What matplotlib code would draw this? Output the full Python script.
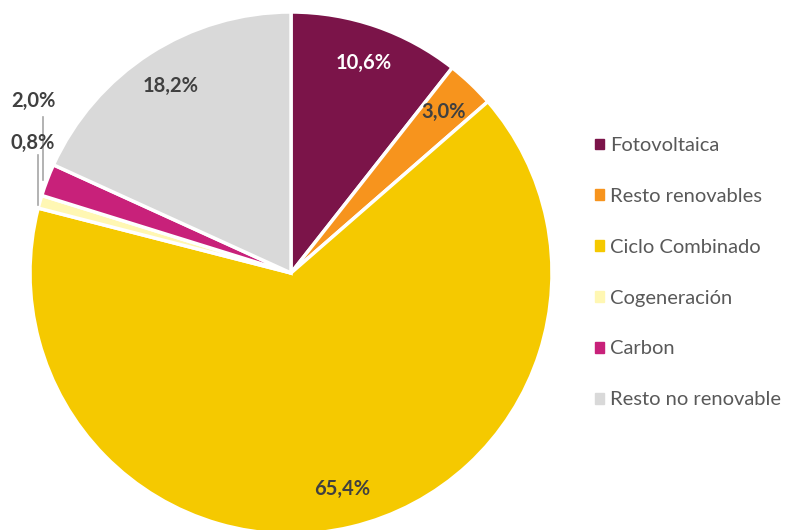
import matplotlib.pyplot as plt
import numpy as np

labels = ['Fotovoltaica', 'Resto renovables', 'Ciclo Combinado',
          'Cogeneración', 'Carbon', 'Resto no renovable']
values = [10.6, 3.0, 65.4, 0.8, 2.0, 18.2]
colors = ['#7B1449', '#F7941D', '#F5C900', '#FFF7B3', '#C8217A', '#D9D9D9']
label_colors = ['white', '#404040', '#404040', '#404040', '#404040', '#404040']

plt.rcParams['font.family'] = ['Lato', 'DejaVu Sans']

W, H = 794, 530
fig = plt.figure(figsize=(W / 100, H / 100), dpi=100)
ax = fig.add_axes([0, 0, 1, 1])

cx, cy, r = 291, H - 273, 261
wedges, _ = ax.pie(values, colors=colors, startangle=90, counterclock=False,
                   center=(cx, cy), radius=r, frame=True,
                   wedgeprops=dict(edgecolor='white', linewidth=2.5))
ax.set_xlim(0, W)
ax.set_ylim(0, H)
ax.set_aspect('equal')
ax.axis('off')

# percentage labels inside the bigger slices
for w, v, c in zip(wedges, values, label_colors):
    if v < 2.5:
        continue
    txt = f'{v:.1f}%'.replace('.', ',')
    ang = np.deg2rad((w.theta1 + w.theta2) / 2)
    ax.text(cx + 0.85 * r * np.cos(ang), cy + 0.85 * r * np.sin(ang), txt,
            ha='center', va='center', fontsize=14.5, fontweight='bold', color=c)

# small slices with leader lines
ax.text(33, H - 101, '2,0%', ha='center', va='center', fontsize=14.5,
        fontweight='bold', color='#404040')
ax.text(33, H - 143, '0,8%', ha='center', va='center', fontsize=14.5,
        fontweight='bold', color='#404040')
ax.plot([43, 43], [H - 117, H - 180], color='#A6A6A6', lw=1.2)
ax.plot([38, 38], [H - 155, H - 205], color='#A6A6A6', lw=1.2)

handles = [plt.Rectangle((0, 0), 1, 1, color=c) for c in colors]
fig.legend(handles, labels, loc='upper left', bbox_to_anchor=(577 / W, 1 - 119 / H),
           frameon=False, fontsize=14.5, labelcolor='#595959',
           handlelength=0.45, handleheight=0.45, handletextpad=0.3,
           labelspacing=1.68)

fig.savefig('out.png', dpi=100)
